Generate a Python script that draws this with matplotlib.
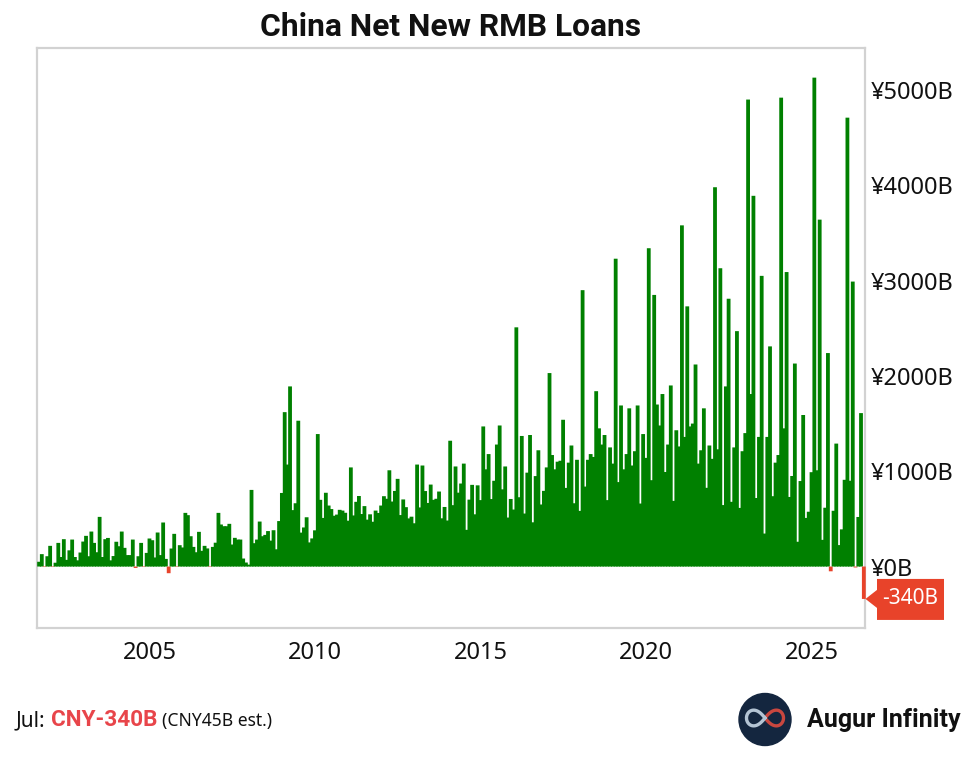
import numpy as np
import pandas as pd
import matplotlib
matplotlib.use("Agg")
import matplotlib.pyplot as plt
from matplotlib.patches import Polygon, Circle

# Net new RMB loans, billions of CNY, monthly
y2001 = [50, 130, -5, 108, 217]  # Aug-Dec
y2002 = [-5, 40, 248, 100, 287, 70, 170, 283, 100, 65, 147, 262]
y2003 = [322, 108, 367, 248, 150, 521, 100, 287, 300, 65, 110, 260]
y2004 = [213, 367, 196, 120, 120, 283, -15, 108, 248, -5, 143, 294]
y2005 = [276, 95, 357, 120, 462, 80, -70, 189, 343, -5, 224, 200]
y2006 = [563, 539, 318, 206, 150, 364, 165, 217, 190, -5, 206, 250]
y2007 = [563, 441, 423, 423, 448, 231, 301, 283, 283, 84, 42, 20]
y2008 = [804, 245, 283, 472, 318, 332, 372, 272, 381, 181, 477, 772]
y2009 = [1620, 1070, 1890, 592, 664, 1530, 356, 410, 517, 253, 295, 380]
y2010 = [1390, 700, 510, 774, 640, 603, 533, 545, 595, 587, 564, 481]
y2011 = [1040, 536, 679, 740, 551, 634, 492, 548, 470, 587, 562, 640]
y2012 = [738, 711, 1010, 682, 793, 920, 540, 704, 623, 505, 523, 454]
y2013 = [1070, 620, 1060, 792, 667, 860, 700, 711, 787, 506, 625, 483]
y2014 = [1320, 644, 1050, 775, 871, 1080, 385, 702, 857, 548, 852, 697]
y2015 = [1470, 1020, 1180, 708, 900, 1280, 1480, 810, 1050, 514, 709, 598]
y2016 = [2510, 727, 1370, 556, 985, 1380, 464, 949, 1220, 651, 794, 1040]
y2017 = [2030, 1170, 1020, 1100, 1110, 1540, 825, 1090, 1270, 664, 1120, 584]
y2018 = [2900, 839, 1120, 1180, 1150, 1840, 1450, 1280, 1380, 697, 1250, 1080]
y2019 = [3230, 886, 1690, 1020, 1180, 1660, 1060, 1210, 1690, 661, 1390, 1140]
y2020 = [3340, 906, 2850, 1700, 1480, 1810, 992, 1280, 1900, 689, 1430, 1260]
y2021 = [3580, 1360, 2730, 1470, 1500, 2120, 1080, 1220, 1660, 826, 1270, 1130]
y2022 = [3980, 1230, 3130, 645, 1890, 2810, 679, 1250, 2470, 615, 1210, 1400]
y2023 = [4900, 1810, 3890, 719, 1360, 3050, 346, 1360, 2310, 738, 1090, 1170]
y2024 = [4920, 1450, 3090, 730, 950, 2130, 260, 897, 1590, 510, 575, 990]
y2025 = [5130, 1010, 3640, 280, 617, 2240, -50, 585, 1290, 225, 390, 910]
y2026 = [4710, 900, 2990, -10, 520, 1610, -340]  # Jan-Jul

loans = np.array(y2001 + y2002 + y2003 + y2004 + y2005 + y2006 + y2007 + y2008 + y2009
                 + y2010 + y2011 + y2012 + y2013 + y2014 + y2015 + y2016 + y2017 + y2018
                 + y2019 + y2020 + y2021 + y2022 + y2023 + y2024 + y2025 + y2026)
dates = pd.date_range("2001-08-31", periods=len(loans), freq="ME")

tick_years = [2005, 2010, 2015, 2020, 2025]
y_ticks = [0, 1000, 2000, 3000, 4000, 5000]

GREEN = "#008000"
RED = "#E8432A"
BORDER = "#D2D2D2"
FONT = "Noto Sans"
BOLD = "Roboto"
W, H = 975, 761
plt.rcParams["font.family"] = [FONT, "DejaVu Sans"]

fig = plt.figure(figsize=(W / 100, H / 100), dpi=100, facecolor="white")
ax = fig.add_axes([37 / W, 1 - 628 / H, (865 - 37) / W, (628 - 48) / H])

colors = [GREEN if v >= 0 else RED for v in loans]
bars = ax.bar(dates, loans, width=42, color=colors, linewidth=0, clip_on=False, zorder=3)
for b in bars:
    b.set_snap(False)

ax.set_xlim(pd.Timestamp("2001-08-08"), pd.Timestamp("2026-08-13"))
ax.set_ylim(-645, 5441)
ax.set_xticks([pd.Timestamp(f"{y}-01-01") for y in tick_years])
ax.set_xticklabels([str(y) for y in tick_years])
ax.yaxis.tick_right()
ax.set_yticks(y_ticks)
ax.set_yticklabels([f"¥{v}B" for v in y_ticks])
ax.tick_params(axis="both", length=0, labelsize=17, labelcolor="#111111")
ax.tick_params(axis="x", pad=9.5)
ax.tick_params(axis="y", pad=4)
for s in ax.spines.values():
    s.set_color(BORDER)
    s.set_linewidth(1.6)

def px(x, y):
    return x / W, 1 - y / H

fig.text(*px(450.5, 27), "China Net New RMB Loans", ha="center", va="center",
         fontsize=22.9, fontweight="bold", family="Roboto", color="#111111")

# value tag pointing to the latest reading
fig.canvas.draw()
last_y = ax.transData.transform((0, loans[-1]))[1]
tip = last_y / H
pts = [(865.5, 0), (877, 9), (877, 20), (944, 20), (944, -21), (877, -21), (877, -9)]
tag = Polygon([(x / W, tip + d / H) for x, d in pts],
              closed=True, transform=fig.transFigure, facecolor=RED, edgecolor="none", clip_on=False)
fig.add_artist(tag)
fig.text(910.5 / W, tip, f"{loans[-1]}B", color="white", fontsize=15, ha="center", va="center")

# footer
fig.text(*px(16, 721), "Jul:", fontsize=15, ha="left", va="center", color="#111111")
fig.text(*px(51, 720), "CNY-340B", fontsize=16.2, fontweight="bold", family=BOLD,
         ha="left", va="center", color="#E8454A")
fig.text(*px(162, 721), "(CNY45B est.)", fontsize=12.6, ha="left", va="center", color="#111111")

# logo
logo = fig.add_axes([735 / W, 1 - 749.5 / H, 60 / W, 60 / H])
logo.set_xlim(-30, 30)
logo.set_ylim(-30, 30)
logo.set_aspect("equal")
logo.axis("off")
logo.add_patch(Circle((0, 0), 26, color="#14263F"))
t = np.linspace(-np.pi / 2, np.pi / 2, 100)
den = 1 + np.sin(t) ** 2
lx = 18.5 * np.cos(t) / den
ly = 18.5 * np.sin(t) * np.cos(t) / den * 1.2
logo.plot(lx, ly + 1.5, color="#C9473F", lw=2.4, solid_capstyle="round")
logo.plot(-lx, ly + 1.5, color="#B4C4D4", lw=2.4, solid_capstyle="round")
fig.text(*px(807, 720), "Augur Infinity", fontsize=18, fontweight="bold", family=BOLD,
         ha="left", va="center", color="#111111")

fig.savefig("out.png", dpi=100, facecolor="white")
